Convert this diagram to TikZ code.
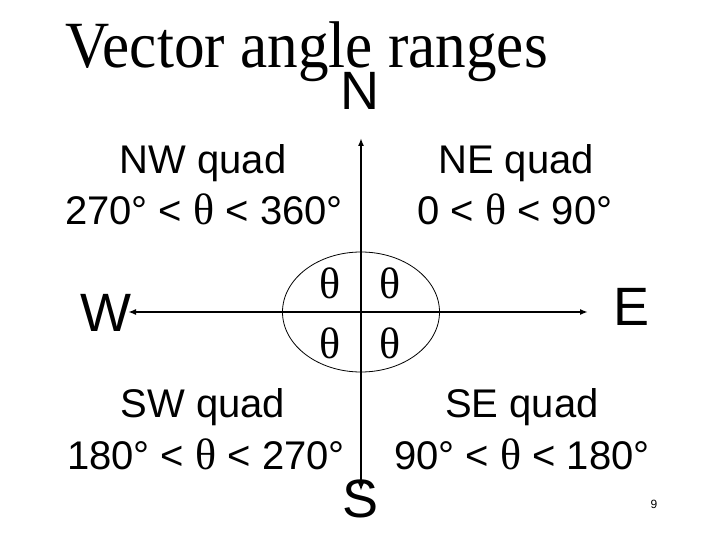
\documentclass[tikz,border=0pt]{standalone}
\usepackage{fontspec}
\usetikzlibrary{arrows.meta}
\setmainfont{Liberation Serif}
\newfontfamily\titlefam{Liberation Serif}
\newfontfamily\dirfam{Liberation Sans}
\newfontfamily\quadfam{Liberation Sans}
\newfontfamily\thfam{Liberation Serif}
\newcommand{\mytheta}{{\thfam\fontsize{44}{44}\selectfont θ}}
\tikzset{
  axis/.style={line width=2pt, -{Latex[length=8pt,width=6pt]}},
  dirlabel/.style={anchor=base, font=\dirfam\fontsize{54}{54}\selectfont, inner sep=0pt},
  quadlabel/.style={anchor=base, font=\quadfam\fontsize{40}{44}\selectfont, inner sep=0pt},
  thlabel/.style={font=\thfam\fontsize{44}{44}\selectfont, inner sep=0pt},
}
\begin{document}
\begin{tikzpicture}[x=1pt,y=-1pt]
\useasboundingbox (0,0) rectangle (720,540);
% title
\node[anchor=base west, font=\titlefam\fontsize{60}{60}\selectfont, inner sep=0pt, xscale=1.02, yscale=1.1] (title) at (65,68) {Vector angle ranges};
% compass labels
\node[dirlabel] (N) at (360,110) {N};
\node[dirlabel] (S) at (361,517) {S};
\node[dirlabel] (W) at (106,331) {W};
\node[dirlabel] (E) at (632,325) {E};
% axes
\coordinate (O) at (361,312);
\coordinate (tipN) at (361,138);
\coordinate (tipS) at (361,491);
\coordinate (tipW) at (128,312);
\coordinate (tipE) at (588,312);
\draw[axis] (O) -- (tipN);
\draw[axis] (O) -- (tipS);
\draw[axis] (O) -- (tipW);
\draw[axis] (O) -- (tipE);
% ellipse
\draw[line width=0.8pt] (O) ellipse [x radius=78.5, y radius=60];
% thetas
\node[thlabel] (t1) at (330,283) {θ};
\node[thlabel] (t2) at (390,283) {θ};
\node[thlabel] (t3) at (330,343) {θ};
\node[thlabel] (t4) at (390,343) {θ};
% quadrant labels
\node[quadlabel] (nw1) at (203,174) {NW quad};
\node[quadlabel] (nw2) at (204,225) {270° < \mytheta{} < 360°};
\node[quadlabel] (ne1) at (516,174) {NE quad};
\node[quadlabel] (ne2) at (515,225) {0 < \mytheta{} < 90°};
\node[quadlabel] (sw1) at (203,417) {SW quad};
\node[quadlabel] (sw2) at (206,469) {180° < \mytheta{} < 270°};
\node[quadlabel] (se1) at (522,417) {SE quad};
\node[quadlabel] (se2) at (522,469) {90° < \mytheta{} < 180°};
% page number
\node[font=\dirfam\fontsize{12}{12}\selectfont, inner sep=0pt] (pg) at (654,504) {9};
\end{tikzpicture}
\end{document}
